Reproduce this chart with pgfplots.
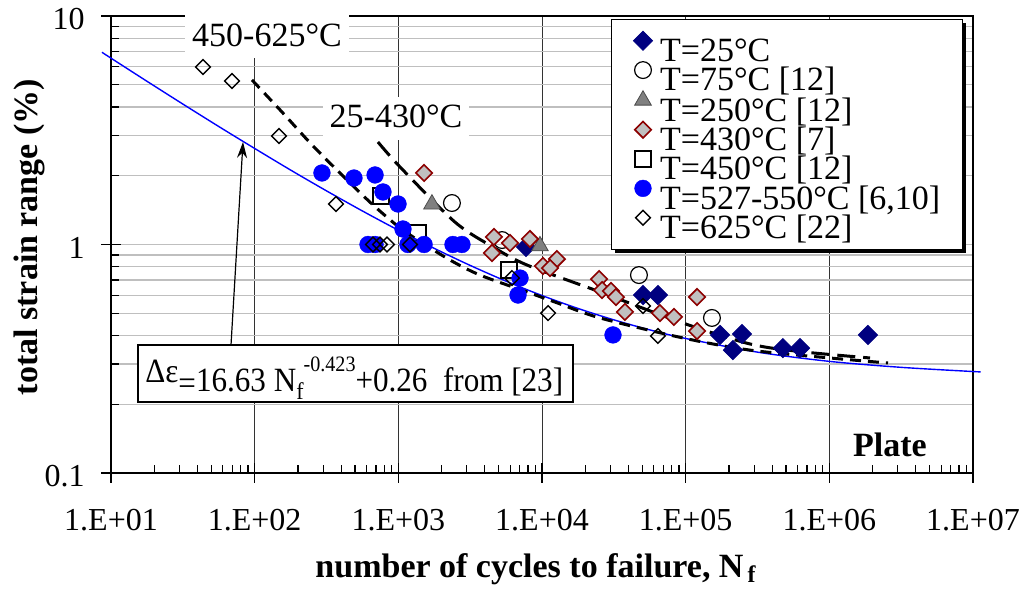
\documentclass[border=0pt]{standalone}
\usepackage{graphicx}
\usepackage{fontspec}
\setmainfont{Liberation Serif}
\usepackage{pgfplots}
\pgfplotsset{compat=1.18}
\usetikzlibrary{arrows.meta,shadows}
\definecolor{navyC}{RGB}{0,0,128}
\definecolor{blueC}{RGB}{0,0,255}
\definecolor{grayT}{RGB}{128,128,128}
\definecolor{lgrayD}{RGB}{192,192,192}
\definecolor{dredD}{RGB}{140,0,0}
\begin{document}
\begin{tikzpicture}
\useasboundingbox (-55.5pt,-63pt) rectangle (458.5pt,236.5pt);
\begin{axis}[
  at={(0pt,0pt)}, anchor=south west,
  width=431pt, height=228.5pt, scale only axis,
  xmode=log, ymode=log,
  xmin=10, xmax=1e7, ymin=0.1, ymax=10,
  clip=false,
  xtick={1e1,1e2,1e3,1e4,1e5,1e6,1e7},
  xticklabels={1.E+01,1.E+02,1.E+03,1.E+04,1.E+05,1.E+06,1.E+07},
  ytick={0.1,1,10}, yticklabels={0.1,1,10},
  minor xtick={2e1,3e1,4e1,5e1,6e1,7e1,8e1,9e1,2e2,3e2,4e2,5e2,6e2,7e2,8e2,9e2,2e3,3e3,4e3,5e3,6e3,7e3,8e3,9e3,2e4,3e4,4e4,5e4,6e4,7e4,8e4,9e4,2e5,3e5,4e5,5e5,6e5,7e5,8e5,9e5,2e6,3e6,4e6,5e6,6e6,7e6,8e6,9e6},
  minor ytick={0.2,0.3,0.4,0.5,0.6,0.7,0.8,0.9,2,3,4,5,6,7,8,9},
  xtick pos=left, ytick pos=left,
  tick align=inside, major tick length=5pt, minor tick length=4pt,
  tick style={black, line width=0.6pt},
  extra x ticks={1e1,1e2,1e3,1e4,1e5,1e6,1e7}, extra x tick labels={},
  extra x tick style={grid=none, tick align=outside, major tick length=5pt},
  extra y ticks={0.1,1,10}, extra y tick labels={},
  extra y tick style={grid=none, tick align=outside, major tick length=5pt},
  xmajorgrids=true, ymajorgrids=true, yminorgrids=true,
  x grid style={black!80, line width=0.4pt},
  y grid style={black!25, line width=0.6pt},
  axis line style={black, line width=1pt},
  tick label style={font=\fontsize{16}{16}\selectfont, inner sep=0pt},
  xticklabel style={anchor=base, yshift=-28.5pt},
  yticklabel style={anchor=east, xshift=-13pt, yshift=-1.5pt},
  xlabel={number of cycles to failure, N\textsubscript{\,f}},
  ylabel={total strain range (\%)},
  label style={font=\bfseries\fontsize{17}{17}\selectfont},
  xlabel style={at={(axis description cs:0.493,-0.2276)}, anchor=base},
  ylabel style={at={(axis description cs:-0.0847,0.5164)}, anchor=base, rotate=0},
  legend cell align=left,
  legend image post style={yshift=3pt},
  legend style={at={(0.9884,0.9934)}, anchor=north east,
    draw=black, line width=0.7pt, fill=white,
    font=\fontsize{17}{17}\selectfont,
    inner xsep=11pt, inner ysep=5.7pt, row sep=0pt,
    nodes={inner sep=0pt, text height=14.67pt, text depth=0pt},
    /tikz/every odd column/.append style={column sep=3.75pt},
    drop shadow={shadow xshift=2pt, shadow yshift=-1.5pt, fill=black, opacity=1}},
]
% T=25
\addplot[only marks, mark=square*, mark size=3.4pt,
  mark options={rotate=45, fill=navyC, draw=navyC, line width=0.4pt}]
  coordinates {(7740,0.975) (50500,0.601) (64100,0.601) (173400,0.402) (246600,0.406)
   (213300,0.345) (475000,0.352) (625000,0.352) (1858000,0.402)};
\addlegendentry{T=25°C}
% T=75
\addplot[only marks, mark=o, mark size=4.2pt,
  mark options={draw=black, line width=0.6pt}]
  coordinates {(2361,1.519) (5270,1.046) (47300,0.735) (152400,0.477)};
\addlegendentry{T=75°C [12]}
% T=250
\addplot[only marks, mark=triangle*, mark size=4.8pt,
  mark options={fill=grayT, draw=black!70, line width=0.4pt}]
  coordinates {(1714,1.50) (9680,0.985)};
\addlegendentry{T=250°C [12]}
% T=430
\addplot[only marks, mark=square*, mark size=2.9pt,
  mark options={rotate=45, fill=lgrayD, draw=dredD, line width=0.8pt}]
  coordinates {(1511,2.056) (4630,1.079) (5990,1.015) (4490,0.918) (8240,1.057)
   (12700,0.864) (10160,0.805) (11380,0.789) (24950,0.706) (26200,0.632)
   (30200,0.626) (32700,0.589) (37800,0.507) (66200,0.501) (82900,0.482)
   (120000,0.589) (120000,0.418)};
\addlegendentry{T=430°C [7]}
% T=450
\addplot[only marks, mark=square, mark size=4pt,
  mark options={draw=black, line width=0.6pt}]
  coordinates {(757,1.630) (1371,1.123) (5890,0.773)};
\addlegendentry{T=450°C [12]}
% T=527-550
\addplot[only marks, mark=*, mark size=4.2pt,
  mark options={fill=blueC, draw=blueC, line width=0.2pt}]
  coordinates {(294,2.056) (491,1.954) (689,2.015) (782,1.698) (995,1.504) (1077,1.169)
   (615,1.0) (689,1.0) (1167,1.0) (1511,1.0) (2400,1.0) (2773,1.0)
   (7030,0.713) (6810,0.601) (31200,0.402)};
\addlegendentry{T=527-550°C [6,10]}
% T=625
\addplot[only marks, mark=square, mark size=2.6pt,
  mark options={rotate=45, draw=black, line width=0.7pt}]
  coordinates {(43.7,5.98) (69.5,5.195) (147.6,2.985) (368,1.504) (667,1.0) (745,1.0)
   (834,1.0) (1205,1.0) (6180,0.713) (11020,0.501) (50500,0.538) (64100,0.398)};
\addlegendentry{T=625°C [22]}
% fit curve from [23]
\addplot[forget plot, blueC, line width=0.7pt, smooth]
  coordinates {(8.65,6.937) (10,6.539) (17.78,5.182) (31.62,4.118) (56.23,3.284)
   (100,2.632) (177.8,2.118) (316.2,1.717) (562.3,1.402) (1000,1.155) (1778,0.962)
   (3162,0.810) (5623,0.691) (10000,0.598) (17783,0.525) (31623,0.468) (56234,0.423)
   (100000,0.388) (316228,0.338) (1000000,0.308) (3162278,0.290) (10000000,0.278)
   (11170000,0.2774)};
% 450-625 C trend
\addplot[forget plot, black, line width=1.5pt, dash pattern=on 5.5pt off 3.5pt, smooth]
  coordinates {(95.7,5.25) (155,3.80) (254.7,2.70) (439.5,1.916) (667,1.489) (1028,1.181)
   (1439,1.025) (2291,0.855) (3700,0.735) (7870,0.620) (12300,0.560) (25350,0.477)
   (95700,0.390) (280500,0.345) (1010000,0.3187) (2560000,0.303)};
% 25-430 C trend
\addplot[forget plot, black, line width=1.5pt, dash pattern=on 9pt off 4pt, smooth]
  coordinates {(721,2.81) (1028,2.184) (2477,1.254) (4560,0.975) (7870,0.813)
   (25350,0.620) (95700,0.4533) (280500,0.367) (625000,0.340) (1920000,0.3187)};
\end{axis}
% annotations
\node[fill=white, inner xsep=3.5pt, inner ysep=0pt, text height=19pt, text depth=5.5pt,
  anchor=base, font=\fontsize{17}{17}\selectfont] at (78pt,213pt) {450-625°C};
\node[fill=white, inner xsep=3.5pt, inner ysep=0pt, text height=15.5pt, text depth=6pt,
  anchor=base, font=\fontsize{17}{17}\selectfont] at (142.5pt,172.5pt) {25-430°C};
\draw[line width=0.6pt, -{Stealth[length=8pt, width=5pt]}] (60pt,64pt) -- (66pt,165.5pt);
\draw[line width=0.8pt, fill=white] (13.5pt,35.5pt) rectangle (231pt,64pt);
\node[anchor=base west, inner sep=0pt, font=\fontsize{17}{17}\selectfont] at (17pt,40.5pt)
  {\scalebox{0.915}[1]{\raisebox{4.5pt}{Δε}\raisebox{-1.5pt}{=}16.63 N\raisebox{-4pt}{\fontsize{12}{12}\selectfont f}\raisebox{10pt}{\fontsize{11}{11}\selectfont -0.423}+0.26\ \ from [23]}};
\node[anchor=base, inner sep=0pt, font=\bfseries\fontsize{17}{17}\selectfont] at (389.5pt,8pt) {Plate};
\end{tikzpicture}
\end{document}
